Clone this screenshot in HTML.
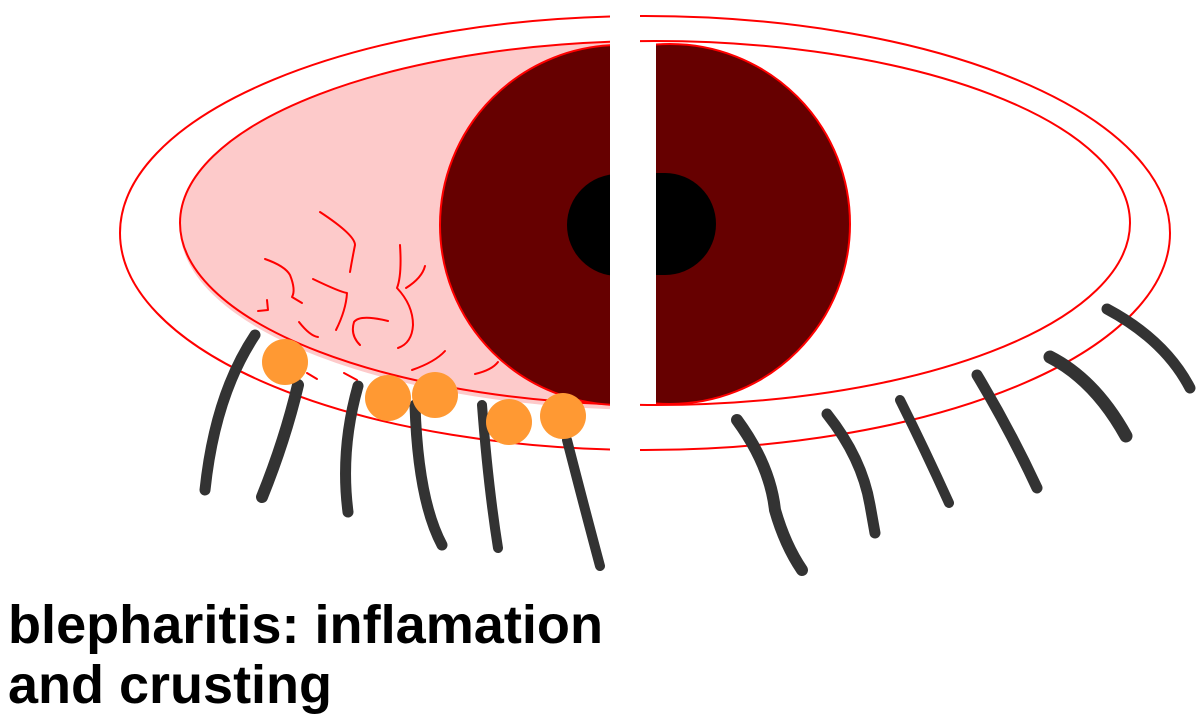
<!DOCTYPE html>
<html><head><meta charset="utf-8"><style>
html,body{margin:0;padding:0;background:#fff;}
svg{display:block;}
</style></head><body>
<svg width="1200" height="726" viewBox="0 0 1200 726" xmlns="http://www.w3.org/2000/svg">
<defs>
<clipPath id="L"><rect x="0" y="0" width="610" height="726"/></clipPath>
<clipPath id="R"><rect x="640" y="0" width="560" height="726"/></clipPath>
<clipPath id="RI"><rect x="656" y="0" width="560" height="726"/></clipPath>
</defs>
<g clip-path="url(#L)">
  <ellipse cx="645" cy="233" rx="525" ry="217" fill="none" stroke="#f00" stroke-width="2"/>
  <ellipse cx="655" cy="228" rx="475" ry="182" fill="#fdcaca"/>
  <ellipse cx="655" cy="223" rx="475" ry="182" fill="#fdcaca" stroke="#f00" stroke-width="2"/>
  <g fill="none" stroke="#f00" stroke-width="2" stroke-linecap="round" stroke-linejoin="round">
    <path d="M320,212 Q355,235 355,245 Q352,260 350,272"/>
    <path d="M265,259 Q285,266 290,275 Q296,290 292,297 L302,303"/>
    <path d="M313,279 Q340,292 347,293 Q346,310 336,330"/>
    <path d="M400,245 Q402,275 397,288 Q413,305 413,325 Q412,343 398,348"/>
    <path d="M406,288 Q422,278 425,266"/>
    <polyline points="258,311 268,310 267,300"/>
    <path d="M299,322 Q310,336 318,337"/>
    <path d="M388,321 Q360,314 354,322 Q350,335 360,345"/>
    <path d="M412,370 Q435,362 445,351"/>
    <path d="M475,374 Q492,370 498,362"/>
    <polyline points="307,373 317,379"/>
    <polyline points="344,373 357,380"/>
  </g>
  <circle cx="620" cy="225" r="180" fill="#660000" stroke="#f00" stroke-width="2"/>
  <circle cx="618" cy="225" r="51" fill="#000"/>
</g>
<g clip-path="url(#R)">
  <ellipse cx="645" cy="233" rx="525" ry="217" fill="none" stroke="#f00" stroke-width="2"/>
  <ellipse cx="655" cy="223" rx="475" ry="182" fill="none" stroke="#f00" stroke-width="2"/>
</g>
<g clip-path="url(#RI)">
  <circle cx="670" cy="224" r="180" fill="#660000" stroke="#f00" stroke-width="2"/>
  <path d="M650,173 H665 A51,51 0 0 1 665,275 H650 Z" fill="#000"/>
</g>
<g fill="none" stroke="#333" stroke-linecap="round" stroke-linejoin="round">
  <path d="M255,335 Q215,395 205,490" stroke-width="11"/>
  <path d="M298,385 Q285,440 262,497" stroke-width="12"/>
  <path d="M358,386 Q340,450 348,512" stroke-width="11"/>
  <path d="M415,405 Q418,500 442,545" stroke-width="11"/>
  <path d="M482,405 Q488,485 498,548" stroke-width="10"/>
  <path d="M567,440 Q585,510 600,566" stroke-width="10"/>
  <path d="M737,420 Q770,465 775,510 Q785,545 802,570" stroke-width="12"/>
  <path d="M827,414 Q862,458 870,505 L875,533" stroke-width="11"/>
  <path d="M900,400 Q925,450 949,503" stroke-width="10"/>
  <path d="M977,375 Q1010,430 1037,488" stroke-width="11"/>
  <path d="M1050,357 Q1095,380 1126,436" stroke-width="13"/>
  <path d="M1107,309 Q1165,340 1190,388" stroke-width="11"/>
</g>
<g fill="#ff9933">
  <circle cx="285" cy="362" r="23"/>
  <circle cx="388" cy="398" r="23"/>
  <circle cx="435" cy="395" r="23"/>
  <circle cx="509" cy="422" r="23"/>
  <circle cx="563" cy="416" r="23"/>
</g>
<text x="8" y="643" font-family="Liberation Sans, sans-serif" font-weight="bold" font-size="54" fill="#000" textLength="595" lengthAdjust="spacingAndGlyphs">blepharitis: inflamation</text>
<text x="8" y="703" font-family="Liberation Sans, sans-serif" font-weight="bold" font-size="54" fill="#000">and crusting</text>
</svg>
</body></html>
